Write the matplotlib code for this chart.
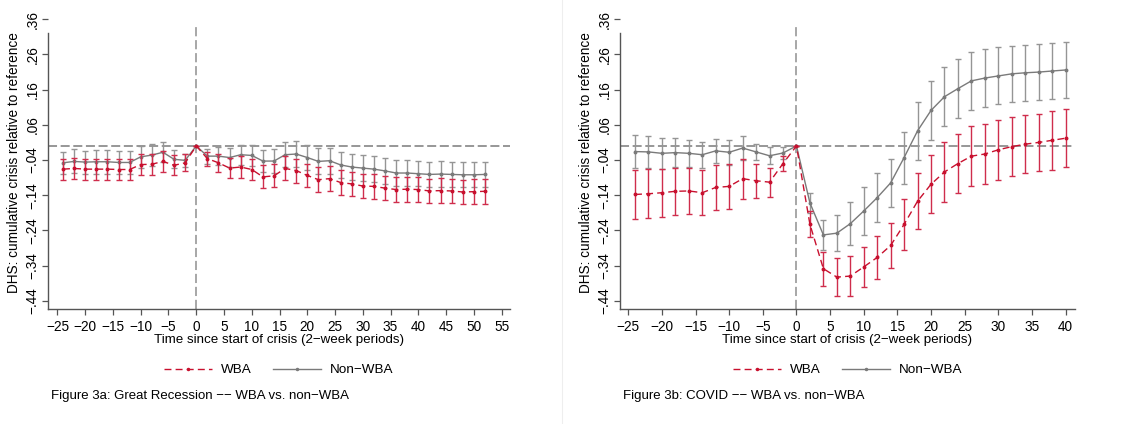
import numpy as np
import matplotlib.pyplot as plt
from matplotlib.lines import Line2D

plt.rcParams['font.family'] = ['Liberation Sans', 'DejaVu Sans']

# ─── Данные: Great Recession (рис. 3a) ───────────────────────────────────────
t_gr = list(range(-24, 53, 2))
wba_gr = [-0.066, -0.064, -0.066, -0.066, -0.066, -0.067, -0.067, -0.053,
          -0.052, -0.044, -0.055, -0.048, 0.0, -0.036, -0.048, -0.063,
          -0.060, -0.067, -0.088, -0.085, -0.064, -0.070, -0.084, -0.096,
          -0.093, -0.104, -0.108, -0.114, -0.115, -0.120, -0.124, -0.123,
          -0.124, -0.128, -0.127, -0.128, -0.131, -0.130, -0.129]
wba_gr_ci = [0.030, 0.030, 0.030, 0.030, 0.030, 0.030, 0.030, 0.030,
             0.030, 0.030, 0.029, 0.024, 0.0, 0.020, 0.026, 0.028,
             0.030, 0.031, 0.033, 0.033, 0.034, 0.034, 0.034, 0.035,
             0.035, 0.035, 0.035, 0.035, 0.035, 0.035, 0.035, 0.035,
             0.035, 0.035, 0.035, 0.035, 0.035, 0.035, 0.035]
non_gr = [-0.048, -0.044, -0.046, -0.045, -0.045, -0.047, -0.047, -0.031,
          -0.026, -0.018, -0.038, -0.041, 0.0, -0.029, -0.029, -0.033,
          -0.025, -0.027, -0.043, -0.043, -0.025, -0.023, -0.033, -0.044,
          -0.042, -0.054, -0.060, -0.063, -0.066, -0.071, -0.077, -0.077,
          -0.079, -0.081, -0.080, -0.081, -0.082, -0.082, -0.081]
non_gr_ci = [0.032, 0.034, 0.033, 0.034, 0.034, 0.033, 0.033, 0.032,
             0.031, 0.028, 0.026, 0.019, 0.0, 0.021, 0.025, 0.027,
             0.029, 0.030, 0.032, 0.033, 0.035, 0.036, 0.036, 0.037,
             0.037, 0.037, 0.037, 0.036, 0.036, 0.036, 0.036, 0.036,
             0.036, 0.036, 0.036, 0.036, 0.036, 0.036, 0.036]

# ─── Данные: COVID (рис. 3b) ─────────────────────────────────────────────────
t_cv = list(range(-24, 41, 2))
wba_cv = [-0.138, -0.136, -0.133, -0.129, -0.128, -0.133, -0.118, -0.115,
          -0.093, -0.099, -0.103, -0.050, 0.0, -0.223, -0.349, -0.373,
          -0.370, -0.344, -0.317, -0.283, -0.223, -0.157, -0.109, -0.074,
          -0.050, -0.029, -0.023, -0.011, -0.002, 0.005, 0.010, 0.016, 0.022]
wba_cv_ci = [0.071, 0.070, 0.068, 0.067, 0.065, 0.064, 0.065, 0.064,
             0.057, 0.048, 0.041, 0.020, 0.0, 0.037, 0.048, 0.053,
             0.057, 0.058, 0.060, 0.065, 0.072, 0.079, 0.083, 0.084,
             0.085, 0.085, 0.085, 0.086, 0.084, 0.082, 0.082, 0.083, 0.083]
non_cv = [-0.016, -0.017, -0.021, -0.019, -0.021, -0.025, -0.014, -0.018,
          -0.006, -0.017, -0.028, -0.020, 0.0, -0.162, -0.253, -0.248,
          -0.221, -0.185, -0.147, -0.105, -0.033, 0.043, 0.101, 0.140,
          0.163, 0.185, 0.193, 0.199, 0.205, 0.208, 0.210, 0.213, 0.216]
non_cv_ci = [0.048, 0.046, 0.044, 0.042, 0.038, 0.037, 0.035, 0.035,
             0.034, 0.022, 0.024, 0.018, 0.0, 0.028, 0.042, 0.052,
             0.061, 0.067, 0.070, 0.069, 0.074, 0.082, 0.083, 0.084,
             0.084, 0.082, 0.082, 0.081, 0.080, 0.080, 0.080, 0.080, 0.080]

y_ticks = [0.36, 0.26, 0.16, 0.06, -0.04, -0.14, -0.24, -0.34, -0.44]

RED = '#c8102e'
RED_BAR = '#cf2d4c'
GRAY = '#7a7a7a'
GRAY_BAR = '#959595'
REF = '#8f8f8f'

W, H = 1130, 424
fig = plt.figure(figsize=(W / 100, H / 100), dpi=100)


def stata_fmt(v):
    s = f'{abs(v):.2f}'.lstrip('0')
    return ('\u2212' if v < 0 else '') + s


def panel(px_left, px_right, x_ticks, xlim, t, wba, wba_ci, non, non_ci, caption):
    bottom_px, top_px = 309.3, 15
    ax = fig.add_axes([px_left / W, 1 - bottom_px / H,
                       (px_right - px_left) / W, (bottom_px - top_px) / H])
    ylo, yhi = -0.4645, 0.3723
    ax.set_xlim(*xlim)
    ax.set_ylim(ylo, yhi)

    ax.axhline(0, color=REF, lw=1.3, ls=(0, (5, 2)), zorder=1)
    ax.plot([0, 0], [ylo, 0.346], color=REF, lw=1.1, ls=(0, (6, 2.5)), zorder=1)

    ax.errorbar(t, non, yerr=non_ci, color=GRAY, ecolor=GRAY_BAR, lw=1.0,
                elinewidth=1.0, capsize=2.2, capthick=1.0, marker='o',
                markersize=1.8, zorder=3)
    ax.errorbar(t, wba, yerr=wba_ci, color=RED, ecolor=RED_BAR, lw=1.0,
                ls=(0, (5, 3)), elinewidth=1.0, capsize=2.2, capthick=1.0,
                marker='o', markersize=1.8, zorder=4)

    ax.set_xticks(x_ticks)
    ax.set_xticklabels([str(v).replace('-', '\u2212') for v in x_ticks])
    ax.set_yticks(y_ticks)
    ax.set_yticklabels([stata_fmt(v) for v in y_ticks], rotation=90, va='center')
    ax.tick_params(axis='both', labelsize=9.8, length=4.5, width=0.9,
                   color='#555555', pad=3)
    ax.tick_params(axis='y', pad=1.5)
    for s in ('top', 'right'):
        ax.spines[s].set_visible(False)
    for s in ('left', 'bottom'):
        ax.spines[s].set_color('#555555')
        ax.spines[s].set_linewidth(1.0)
    ax.spines['left'].set_bounds(ylo, 0.32)

    ax.set_xlabel('Time since start of crisis (2\u2212week periods)',
                  fontsize=9.6, labelpad=0)
    ax.set_ylabel('DHS: cumulative crisis relative to reference', fontsize=9.8,
                  labelpad=3)

    handles = [Line2D([], [], color=RED, lw=1.0, ls=(0, (5, 3)), marker='o',
                      markersize=1.5),
               Line2D([], [], color=GRAY, lw=1.0, marker='o', markersize=1.5)]
    ax.legend(handles, ['WBA', 'Non\u2212WBA'], ncol=2, frameon=False,
              fontsize=9.7, loc='center', numpoints=1,
              bbox_to_anchor=(0.5, (bottom_px - 370) / (bottom_px - top_px)),
              handlelength=3.55, columnspacing=1.6, handletextpad=0.67)
    fig.text((px_left + 3) / W, 1 - 396 / H, caption, fontsize=9.5,
             va='center', ha='left')
    return ax


panel(48, 510, list(range(-25, 56, 5)), (-26.7, 56.5), t_gr,
      wba_gr, wba_gr_ci, non_gr, non_gr_ci,
      'Figure 3a: Great Recession \u2212\u2212 WBA vs. non\u2212WBA')
panel(620, 1075, list(range(-25, 41, 5)), (-26.23, 41.4), t_cv,
      wba_cv, wba_cv_ci, non_cv, non_cv_ci,
      'Figure 3b: COVID \u2212\u2212 WBA vs. non\u2212WBA')

# тонкий разделитель между панелями
fig.add_artist(Line2D([562 / W, 562 / W], [0, 1], color='#eeeeee', lw=0.8))

plt.savefig('out.png', dpi=100)
